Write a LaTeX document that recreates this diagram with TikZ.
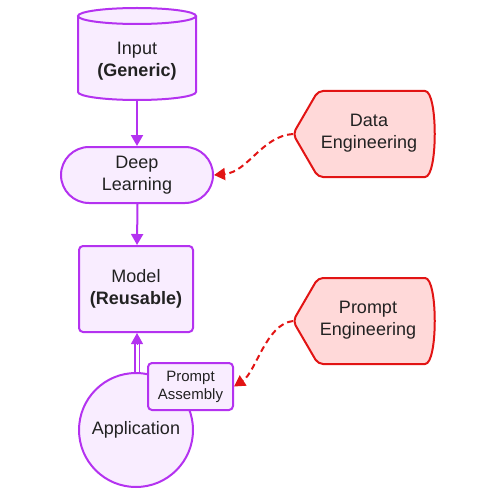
\documentclass[tikz,border=0pt]{standalone}
\usepackage{fontspec}
\setmainfont{Liberation Sans}
\usetikzlibrary{arrows.meta}
\definecolor{pstroke}{RGB}{180,50,240}
\definecolor{pfill}{RGB}{249,237,255}
\definecolor{rstroke}{RGB}{226,20,20}
\definecolor{rfill}{RGB}{255,217,217}
\definecolor{txt}{RGB}{34,34,34}
\tikzset{
  x=1pt, y=-1pt,
  pshape/.style={draw=pstroke, fill=pfill, line width=2pt, text=txt, align=center,
    font=\fontsize{18}{22}\selectfont, inner sep=0pt},
  plain/.style={text=txt, align=center, font=\fontsize{18}{22}\selectfont, inner sep=0pt},
  pline/.style={draw=pstroke, line width=2pt, -{Triangle[length=11pt,width=12pt]}},
  rline/.style={draw=rstroke, line width=2pt, dash pattern=on 6pt off 4pt,
    -{Triangle[length=11pt,width=12pt]}},
  rshape/.style={draw=rstroke, fill=rfill, line width=2pt, rounded corners=5pt},
  dline/.style={draw=pstroke, double=white, double distance=3pt, line width=1.6pt, shorten >=9pt},
  dtip/.style={draw=pstroke, line width=1pt, -{Triangle[length=11pt,width=12pt]}},
}
\begin{document}
\begin{tikzpicture}
\useasboundingbox (0,0) rectangle (500,500);
% cylinder
\fill[pfill] (78,16) -- (78,92) arc[start angle=180, end angle=360, x radius=59, y radius=-8] -- (196,16) -- cycle;
\draw[pstroke, line width=2pt] (78,16) -- (78,92) arc[start angle=180, end angle=360, x radius=59, y radius=-8] -- (196,16);
\draw[pstroke, fill=pfill, line width=2pt] (137,16) ellipse[x radius=59, y radius=8];
\node[plain, minimum width=118pt, minimum height=78pt] (input) at (137,61) {Input\\\textbf{(Generic)}};
% deep learning
\node[pshape, rounded corners=28pt, minimum width=152pt, minimum height=56pt] (dl) at (137,175) {Deep\\Learning};
% model
\node[pshape, rounded corners=4pt, minimum width=114pt, minimum height=86pt] (model) at (136,289) {Model\\\textbf{(Reusable)}};
% application
\node[pshape, circle, minimum size=114pt] (app) at (136,430) {Application};
% prompt assembly
\node[pshape, rounded corners=4pt, minimum width=85pt, minimum height=47pt, font=\fontsize{15}{18}\selectfont] (pa) at (190.5,386.5) {Prompt\\Assembly};
% red shapes
\draw[rshape] (318,91) -- (420,91) .. controls (438,91) and (438,177) .. (420,177) -- (318,177) -- (293,134) -- cycle;
\coordinate (detip) at (293,134);
\node[plain] (de) at (369,133) {Data\\Engineering};
\draw[rshape] (318,278) -- (420,278) .. controls (438,278) and (438,364) .. (420,364) -- (318,364) -- (293,321) -- cycle;
\coordinate (petip) at (293,321);
\node[plain] (pe) at (368,320) {Prompt\\Engineering};
% connectors
\draw[pline] (input.south) -- (dl.north);
\draw[pline] ([xshift=0.5pt]dl.south) -- ([xshift=1pt]model.north);
\draw[dline] ([xshift=1pt]app.north) -- ([xshift=1pt]model.south);
\draw[dtip] ([xshift=1pt,yshift=-11pt]model.south) -- ([xshift=1pt]model.south);
\draw[rline] (detip) .. controls (262,136) and (248,172) .. (dl.east);
\draw[rline] (petip) .. controls (266,324) and (256,372) .. (pa.east);
\end{tikzpicture}
\end{document}
